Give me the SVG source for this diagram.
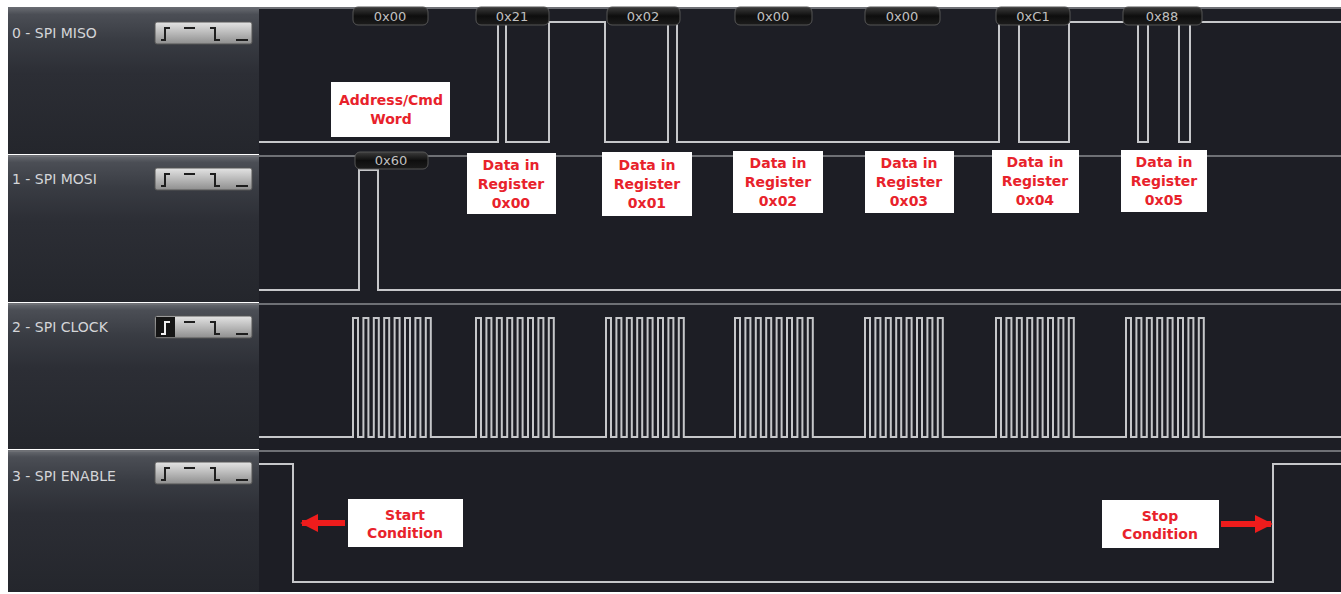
<svg xmlns="http://www.w3.org/2000/svg" width="1341" height="594" viewBox="0 0 1341 594">
<defs>
<linearGradient id="panel" x1="0" y1="0" x2="0" y2="1">
<stop offset="0" stop-color="#6a6d73"/>
<stop offset="0.05" stop-color="#4b4e55"/>
<stop offset="0.22" stop-color="#393c43"/>
<stop offset="0.45" stop-color="#2c2e35"/>
<stop offset="1" stop-color="#24262c"/>
</linearGradient>
<linearGradient id="btn" x1="0" y1="0" x2="0" y2="1">
<stop offset="0" stop-color="#e4e4e4"/>
<stop offset="1" stop-color="#8e8e8e"/>
</linearGradient>
<linearGradient id="pill" x1="0" y1="0" x2="0" y2="1">
<stop offset="0" stop-color="#3c3c3c"/>
<stop offset="0.5" stop-color="#0e0e0e"/>
<stop offset="1" stop-color="#1c1c1c"/>
</linearGradient>
<marker id="ah" viewBox="0 0 10 10" refX="9" refY="5" markerWidth="3" markerHeight="3.2" orient="auto">
<path d="M0,0 L10,5 L0,10 Z" fill="#ee1c1c"/>
</marker>
</defs>
<style>
.sig{fill:none;stroke:#c6c7ca;stroke-width:2}
.sep{stroke:#6e7075;stroke-width:2}
.lbl{font-family:"DejaVu Sans",sans-serif;font-size:14px;fill:#d4d5d8}
.btn{fill:url(#btn);stroke:#555;stroke-width:1}
.ico{fill:none;stroke:#1e1e1e;stroke-width:2}
.pill{fill:url(#pill);stroke:#555;stroke-width:1}
.ptxt{font-family:"DejaVu Sans",sans-serif;font-size:13px;fill:#c0c0c0;text-anchor:middle}
.box{fill:#ffffff}
.rtxt{font-family:"DejaVu Sans",sans-serif;font-weight:bold;font-size:14px;fill:#e8222b;text-anchor:middle}
.arrow{stroke:#ee1c1c;stroke-width:6;fill:none}
</style>
<rect x="0" y="0" width="1341" height="594" fill="#ffffff"/>
<rect x="259" y="7" width="1082" height="585" fill="#1d1e25"/>

<g id="row-miso">
<rect x="8" y="7" width="251" height="147" fill="url(#panel)"/>
<text class="lbl" x="12" y="38">0 - SPI MISO</text>
<rect class="btn" x="155" y="22" width="97" height="22" rx="2"/>
<path class="ico" d="M161 40h4v-12h5M184 28h11M210 28h5v12h5M236 40h12"/>
<line class="sep" x1="259" y1="8" x2="1341" y2="8"/>
<path class="sig" d="M259 142H498V22H506V142H549V22H605V142H668V22H677V142H999V22H1019V142H1069V22H1138V142H1148V22H1179V142H1190V22H1341"/>
<rect class="pill" x="353" y="7" width="75" height="18" rx="5"/><text class="ptxt" x="390" y="21">0x00</text>
<rect class="pill" x="476" y="7" width="73" height="18" rx="5"/><text class="ptxt" x="512" y="21">0x21</text>
<rect class="pill" x="607" y="7" width="73" height="18" rx="5"/><text class="ptxt" x="643" y="21">0x02</text>
<rect class="pill" x="735" y="7" width="77" height="18" rx="5"/><text class="ptxt" x="773" y="21">0x00</text>
<rect class="pill" x="865" y="7" width="75" height="18" rx="5"/><text class="ptxt" x="902" y="21">0x00</text>
<rect class="pill" x="996" y="7" width="74" height="18" rx="5"/><text class="ptxt" x="1033" y="21">0xC1</text>
<rect class="pill" x="1123" y="7" width="79" height="18" rx="5"/><text class="ptxt" x="1162" y="21">0x88</text>
</g>

<g id="row-mosi">
<rect x="8" y="155" width="251" height="147" fill="url(#panel)"/>
<line class="sep" x1="8" y1="156" x2="1341" y2="156"/>
<text class="lbl" x="12" y="184">1 - SPI MOSI</text>
<rect class="btn" x="155" y="168" width="97" height="22" rx="2"/>
<path class="ico" d="M161 186h4v-12h5M184 174h11M210 174h5v12h5M236 186h12"/>
<path class="sig" d="M259 290H359V170H378V290H1341"/>
<rect class="pill" x="355" y="152" width="73" height="17" rx="5"/><text class="ptxt" x="391" y="165">0x60</text>
</g>

<g id="row-clock">
<rect x="8" y="303" width="251" height="146" fill="url(#panel)"/>
<line class="sep" x1="8" y1="304" x2="1341" y2="304"/>
<text class="lbl" x="12" y="332">2 - SPI CLOCK</text>
<rect class="btn" x="155" y="316" width="97" height="22" rx="2"/>
<rect x="156" y="317" width="19" height="20" fill="#151515"/>
<path class="ico" d="M184 322h11M210 322h5v12h5M236 334h12"/>
<path d="M161 334h4v-12h5" fill="none" stroke="#f0f0f0" stroke-width="2"/>
<path class="sig" d="M259 437H353v-119h5v119h5.4v-119h5v119h5.4v-119h5v119h5.4v-119h5v119h5.4v-119h5v119h5.4v-119h5v119h5.4v-119h5v119h5.4v-119h5v119h5.4H476v-119h5v119h5.4v-119h5v119h5.4v-119h5v119h5.4v-119h5v119h5.4v-119h5v119h5.4v-119h5v119h5.4v-119h5v119h5.4v-119h5v119h5.4H606v-119h5v119h5.4v-119h5v119h5.4v-119h5v119h5.4v-119h5v119h5.4v-119h5v119h5.4v-119h5v119h5.4v-119h5v119h5.4v-119h5v119h5.4H735v-119h5v119h5.4v-119h5v119h5.4v-119h5v119h5.4v-119h5v119h5.4v-119h5v119h5.4v-119h5v119h5.4v-119h5v119h5.4v-119h5v119h5.4H865v-119h5v119h5.4v-119h5v119h5.4v-119h5v119h5.4v-119h5v119h5.4v-119h5v119h5.4v-119h5v119h5.4v-119h5v119h5.4v-119h5v119h5.4H996v-119h5v119h5.4v-119h5v119h5.4v-119h5v119h5.4v-119h5v119h5.4v-119h5v119h5.4v-119h5v119h5.4v-119h5v119h5.4v-119h5v119h5.4H1126v-119h5v119h5.4v-119h5v119h5.4v-119h5v119h5.4v-119h5v119h5.4v-119h5v119h5.4v-119h5v119h5.4v-119h5v119h5.4v-119h5v119h5.4H1341"/>
</g>

<g id="row-enable">
<rect x="8" y="450" width="251" height="142" fill="url(#panel)"/>
<line class="sep" x1="8" y1="451" x2="1341" y2="451"/>
<text class="lbl" x="12" y="481">3 - SPI ENABLE</text>
<rect class="btn" x="155" y="462" width="97" height="22" rx="2"/>
<path class="ico" d="M161 480h4v-12h5M184 468h11M210 468h5v12h5M236 480h12"/>
<path class="sig" d="M259 464H293V582H1273V464H1341"/>
</g>

<g id="callout-address">
<rect class="box" x="331" y="82" width="119" height="55"/>
<text class="rtxt" x="391" y="105">Address/Cmd</text>
<text class="rtxt" x="391" y="124">Word</text>
</g>
<g id="callout-reg0">
<rect class="box" x="467" y="153" width="89" height="61"/>
<text class="rtxt" x="511" y="170">Data in</text><text class="rtxt" x="511" y="189">Register</text><text class="rtxt" x="511" y="208">0x00</text>
</g>
<g id="callout-reg1">
<rect class="box" x="602" y="152" width="90" height="64"/>
<text class="rtxt" x="647" y="170">Data in</text><text class="rtxt" x="647" y="189">Register</text><text class="rtxt" x="647" y="208">0x01</text>
</g>
<g id="callout-reg2">
<rect class="box" x="733" y="151" width="90" height="62"/>
<text class="rtxt" x="778" y="168">Data in</text><text class="rtxt" x="778" y="187">Register</text><text class="rtxt" x="778" y="206">0x02</text>
</g>
<g id="callout-reg3">
<rect class="box" x="865" y="151" width="89" height="62"/>
<text class="rtxt" x="909" y="168">Data in</text><text class="rtxt" x="909" y="187">Register</text><text class="rtxt" x="909" y="206">0x03</text>
</g>
<g id="callout-reg4">
<rect class="box" x="992" y="150" width="87" height="63"/>
<text class="rtxt" x="1035" y="167">Data in</text><text class="rtxt" x="1035" y="186">Register</text><text class="rtxt" x="1035" y="205">0x04</text>
</g>
<g id="callout-reg5">
<rect class="box" x="1121" y="150" width="86" height="62"/>
<text class="rtxt" x="1164" y="167">Data in</text><text class="rtxt" x="1164" y="186">Register</text><text class="rtxt" x="1164" y="205">0x05</text>
</g>
<g id="callout-start">
<rect class="box" x="348" y="499" width="115" height="48"/>
<text class="rtxt" x="405" y="520">Start</text><text class="rtxt" x="405" y="538">Condition</text>
</g>
<g id="callout-stop">
<rect class="box" x="1102" y="500" width="117" height="48"/>
<text class="rtxt" x="1160" y="521">Stop</text><text class="rtxt" x="1160" y="539">Condition</text>
</g>

<g id="connectors">
<line class="arrow" x1="345" y1="523" x2="302" y2="523" marker-end="url(#ah)"/>
<line class="arrow" x1="1221" y1="524" x2="1271" y2="524" marker-end="url(#ah)"/>
</g>
</svg>
